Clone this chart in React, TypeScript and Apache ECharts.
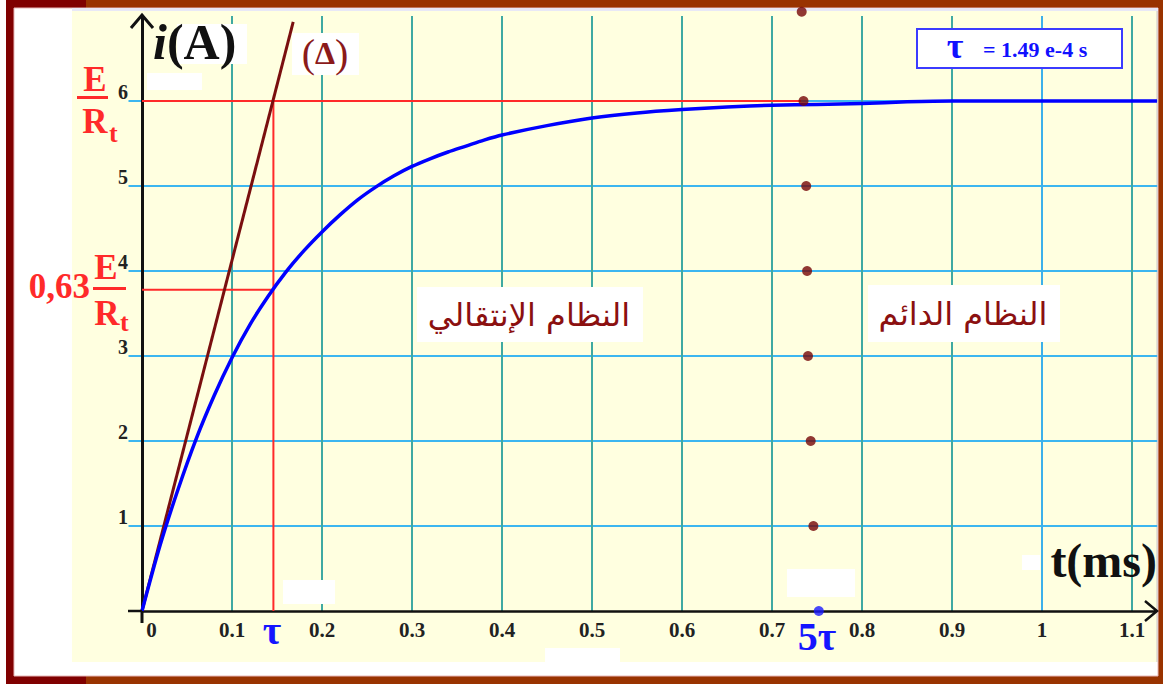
import React, { useEffect, useRef } from "react";
import * as echarts from "echarts";

// ---- data ----
const curveT = [0, 0.02, 0.04, 0.06, 0.08, 0.1, 0.12, 0.14, 0.16, 0.18, 0.2, 0.22, 0.24, 0.26, 0.28, 0.3, 0.32, 0.34, 0.36, 0.38, 0.4, 0.45, 0.5, 0.55, 0.6, 0.65, 0.7, 0.75, 0.8, 0.85, 0.9, 1.0, 1.1, 1.128];
const curveI = [0, 0.77, 1.43, 2.02, 2.53, 2.98, 3.37, 3.7, 3.99, 4.24, 4.46, 4.66, 4.84, 4.99, 5.12, 5.23, 5.32, 5.4, 5.47, 5.54, 5.6, 5.71, 5.8, 5.86, 5.9, 5.93, 5.95, 5.96, 5.97, 5.99, 6.0, 6.0, 6.0, 6.0];
const tangentT = [0, 0.168];
const tangentI = [0, 6.93];
const tau = 0.146;
const iTau = 3.78;
const iFinal = 6;
const finalLineEnd = 0.732;
const dotsT = [0.733, 0.735, 0.738, 0.739, 0.74, 0.743, 0.746, 0.752];
const dotsI = [7.05, 6, 5.0, 4.0, 3.0, 2.0, 1.0, 0];
const xGrid = [0.1, 0.2, 0.3, 0.4, 0.5, 0.6, 0.7, 0.8, 0.9, 1.0, 1.1];
const yGrid = [1, 2, 3, 4, 5, 6];
const hLineStart = -0.015;
const hLineEnd = 1.128;
const xMax = 1.125;
const yMax = 7;

const SERIF = '"Liberation Serif", "Times New Roman", serif';
const ARABIC = '"DejaVu Sans", sans-serif';
const RED = "#ff2a2a";
const DARKRED = "#7a0f0f";
const BLUE = "#0000ff";

export default function App() {
  const ref = useRef<HTMLDivElement>(null);
  useEffect(() => {
    if (!ref.current) return;
    const chart = echarts.init(ref.current, undefined, { renderer: "svg" });
    const fmtX = (v: number) => {
      if (Math.abs(v - xMax) < 1e-6) return "";
      const s = String(+v.toFixed(2));
      return s === "0" ? "{z|0}" : s;
    };
    const option: any = {
      animation: false,
      backgroundColor: "#ffffff",
      grid: { left: 142, right: 8.5, top: 16, bottom: 73, containLabel: false },
      xAxis: {
        type: "value", min: 0, max: xMax, interval: 0.1,
        axisLine: { lineStyle: { color: "#111", width: 2.5 } },
        axisTick: { show: false },
        splitLine: { show: false },
        axisLabel: {
          formatter: fmtX, margin: 8, color: "#222",
          fontFamily: SERIF, fontWeight: "bold", fontSize: 21,
          rich: { z: { padding: [0, 0, 0, 19], fontFamily: SERIF, fontWeight: "bold", fontSize: 21, color: "#222" } },
        },
      },
      yAxis: {
        type: "value", min: 0, max: yMax, interval: 1,
        axisLine: { show: true, lineStyle: { color: "#111", width: 3 } },
        axisTick: { show: false },
        splitLine: { show: false },
        axisLabel: {
          formatter: (v: number) => (v === 0 || v === yMax ? "" : String(v)),
          margin: 14, color: "#222", verticalAlign: "bottom", lineHeight: 19,
          fontFamily: SERIF, fontWeight: "bold", fontSize: 20,
        },
      },
      series: [
        {
          type: "custom", z: -1, silent: true,
          data: yGrid.map((v) => [0, v]),
          renderItem: (params: any, api: any) => {
            const v = api.value(1);
            const p1 = api.coord([hLineStart, v]);
            const p2 = api.coord([hLineEnd, v]);
            return { type: "line", shape: { x1: p1[0], y1: p1[1], x2: p2[0], y2: p2[1] }, style: { stroke: "#3cb6f0", lineWidth: 2 } };
          },
        },
        {
          type: "custom", z: -1, silent: true,
          data: xGrid.map((v) => [v, 0]),
          renderItem: (params: any, api: any) => {
            const v = api.value(0);
            const p1 = api.coord([v, 0]);
            const p2 = api.coord([v, yMax]);
            return { type: "line", shape: { x1: p1[0], y1: p1[1], x2: p2[0], y2: p2[1] }, style: { stroke: Math.abs(v - 1) < 1e-6 ? "#3cb0ea" : "#3fa9a2", lineWidth: 2 } };
          },
        },
        {
          type: "line", z: 3, showSymbol: false, clip: false,
          data: [[0, iFinal], [finalLineEnd, iFinal]],
          lineStyle: { color: RED, width: 2 },
        },
        {
          type: "line", z: 3, showSymbol: false, clip: false,
          data: [[tau, 0], [tau, iFinal]],
          lineStyle: { color: RED, width: 2 },
        },
        {
          type: "line", z: 3, showSymbol: false, clip: false,
          data: [[0, iTau], [tau, iTau]],
          lineStyle: { color: RED, width: 2 },
        },
        {
          type: "line", z: 4, showSymbol: false, clip: false,
          data: tangentT.map((t, k) => [t, tangentI[k]]),
          lineStyle: { color: DARKRED, width: 3 },
        },
        {
          type: "line", z: 5, showSymbol: false, clip: false, smooth: 0.3,
          data: curveT.map((t, k) => [t, curveI[k]]),
          lineStyle: { color: BLUE, width: 3.5, join: "round" },
        },
        {
          type: "scatter", z: 6, clip: false, symbolSize: 10,
          data: dotsT.map((t, k) => ({ value: [t, dotsI[k]], itemStyle: { color: dotsI[k] === 0 ? "#1a1aff" : "#760606" } })),
        },
      ],
      graphic: [
        // frame & backgrounds
        { type: "rect", z: -10, shape: { x: 6, y: 0, width: 1157, height: 684 }, style: { fill: "#993300" } },
        { type: "rect", z: -10, shape: { x: 6, y: 0, width: 8, height: 684 }, style: { fill: "#800000" } },
        { type: "rect", z: -10, shape: { x: 6, y: 0, width: 80, height: 8 }, style: { fill: "#800000" } },
        { type: "rect", z: -10, shape: { x: 6, y: 676, width: 80, height: 8 }, style: { fill: "#800000" } },
        { type: "rect", z: -9, shape: { x: 14, y: 8, width: 1144, height: 668 }, style: { fill: "#ffffff", stroke: "#e8b8b8", lineWidth: 1 } },
        { type: "rect", z: -8, shape: { x: 72, y: 8, width: 1086, height: 3 }, style: { fill: "#e8e8f6" } },
        { type: "rect", z: -8, shape: { x: 72, y: 11, width: 1085, height: 651 }, style: { fill: "#ffffe0" } },
        { type: "line", z: -8, shape: { x1: 1157, y1: 11, x2: 1157, y2: 662 }, style: { stroke: "#c8c8c8", lineWidth: 1 } },
        // white patches
        { type: "rect", z: 50, shape: { x: 147, y: 73, width: 55, height: 17 }, style: { fill: "#ffffff" } },
        { type: "rect", z: 50, shape: { x: 283, y: 580, width: 52, height: 24 }, style: { fill: "#ffffff" } },
        { type: "rect", z: 50, shape: { x: 787, y: 569, width: 68, height: 28 }, style: { fill: "#ffffff" } },
        { type: "rect", z: 50, shape: { x: 1022, y: 555, width: 18, height: 15 }, style: { fill: "#ffffff" } },
        { type: "rect", z: 50, shape: { x: 545, y: 648, width: 75, height: 16 }, style: { fill: "#ffffff" } },
        { type: "rect", z: 50, shape: { x: 177, y: 24, width: 70, height: 40 }, style: { fill: "#ffffff" } },
        { type: "rect", z: 50, shape: { x: 292, y: 33, width: 67, height: 42 }, style: { fill: "#ffffff" } },
        // axis extensions and arrows
        { type: "line", z: 60, shape: { x1: 142, y1: 611, x2: 142, y2: 623 }, style: { stroke: "#111", lineWidth: 3 } },
        { type: "line", z: 60, shape: { x1: 128, y1: 611, x2: 142, y2: 611 }, style: { stroke: "#111", lineWidth: 2.5 } },
        { type: "line", z: 60, shape: { x1: 1154, y1: 611, x2: 1157, y2: 611 }, style: { stroke: "#111", lineWidth: 2.5 } },
        { type: "polyline", z: 60, shape: { points: [[131, 28], [142, 15], [153, 28]] }, style: { stroke: "#111", lineWidth: 3, fill: "none" } },
        { type: "polyline", z: 60, shape: { points: [[1145, 601], [1157, 611], [1145, 621]] }, style: { stroke: "#111", lineWidth: 2.5, fill: "none" } },
        // E / Rt
        { type: "text", z: 100, style: { text: "E", x: 95, y: 79, align: "center", verticalAlign: "middle", font: `bold 35px ${SERIF}`, fill: RED } },
        { type: "rect", z: 100, shape: { x: 77, y: 96, width: 31, height: 3 }, style: { fill: RED } },
        { type: "text", z: 100, style: { text: "R", x: 95, y: 121, align: "center", verticalAlign: "middle", font: `bold 35px ${SERIF}`, fill: RED } },
        { type: "text", z: 100, style: { text: "t", x: 109, y: 133, align: "left", verticalAlign: "middle", lineHeight: 20, font: `bold 26px ${SERIF}`, fill: RED } },
        // 0,63 E / Rt
        { type: "text", z: 100, style: { text: "0,63", x: 90, y: 286, align: "right", verticalAlign: "middle", font: `bold 35px ${SERIF}`, fill: RED } },
        { type: "text", z: 100, style: { text: "E", x: 106, y: 267, align: "center", verticalAlign: "middle", font: `bold 35px ${SERIF}`, fill: RED } },
        { type: "rect", z: 100, shape: { x: 93, y: 287, width: 33, height: 3 }, style: { fill: RED } },
        { type: "text", z: 100, style: { text: "R", x: 107, y: 313, align: "center", verticalAlign: "middle", font: `bold 35px ${SERIF}`, fill: RED } },
        { type: "text", z: 100, style: { text: "t", x: 120, y: 322, align: "left", verticalAlign: "middle", lineHeight: 18, font: `bold 26px ${SERIF}`, fill: RED } },
        // i(A)
        {
          type: "text", z: 100,
          style: {
            text: "{i|i}{a|(A)}", x: 153, y: 42, align: "left", verticalAlign: "middle",
            rich: {
              i: { fontFamily: SERIF, fontSize: 50, fontWeight: "bold", fontStyle: "italic", fill: "#111" },
              a: { fontFamily: SERIF, fontSize: 50, fontWeight: "bold", fill: "#111" },
            },
          },
        },
        // (Δ)
        {
          type: "text", z: 100,
          style: {
            text: "{p|(}{d|Δ}{p|)}", x: 325, y: 53, align: "center", verticalAlign: "middle",
            rich: {
              p: { fontFamily: SERIF, fontSize: 40, fill: "#8b1a1a" },
              d: { fontFamily: SERIF, fontSize: 32, fontWeight: "bold", fill: "#8b1a1a" },
            },
          },
        },
        // tau labels
        { type: "text", z: 100, style: { text: "τ", x: 272, y: 630, align: "center", verticalAlign: "middle", font: `bold 40px ${SERIF}`, fill: "#1515ff" } },
        { type: "text", z: 100, style: { text: "5τ", x: 817, y: 636, align: "center", verticalAlign: "middle", font: `bold 40px ${SERIF}`, fill: "#1515ff" } },
        // t(ms)
        { type: "text", z: 100, style: { text: "t(ms)", x: 1157, y: 560, align: "right", verticalAlign: "middle", font: `bold 48px ${SERIF}`, fill: "#111" } },
        // tau box
        { type: "rect", z: 100, shape: { x: 917, y: 29, width: 205, height: 39 }, style: { fill: "#ffffff", stroke: "#3b3bff", lineWidth: 2 } },
        { type: "text", z: 101, style: { text: "τ", x: 955, y: 46, align: "center", verticalAlign: "middle", font: `bold 36px ${SERIF}`, fill: "#1010ff" } },
        { type: "text", z: 101, style: { text: "= 1.49 e-4 s", x: 983, y: 49, align: "left", verticalAlign: "middle", font: `bold 22px ${SERIF}`, fill: "#1010ff" } },
        // Arabic labels
        { type: "rect", z: 50, shape: { x: 417, y: 287, width: 226, height: 55 }, style: { fill: "#ffffff" } },
        { type: "text", z: 100, style: { text: "النظام الإنتقالي", x: 529, y: 315, align: "center", verticalAlign: "middle", font: `32px ${ARABIC}`, fill: "#8b1010" } },
        { type: "rect", z: 50, shape: { x: 868, y: 285, width: 192, height: 57 }, style: { fill: "#ffffff" } },
        { type: "text", z: 100, style: { text: "النظام الدائم", x: 963, y: 314, align: "center", verticalAlign: "middle", font: `32px ${ARABIC}`, fill: "#8b1010" } },
      ],
    };
    chart.setOption(option);
    return () => chart.dispose();
  }, []);
  return <div ref={ref} style={{ position: "absolute", left: 0, top: 0, width: 1163, height: 684 }} />;
}
